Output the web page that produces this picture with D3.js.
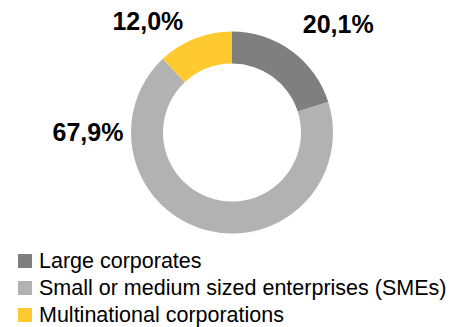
<!DOCTYPE html>
<html>
<head>
<meta charset="utf-8">
<script src="https://cdn.jsdelivr.net/npm/d3@7"></script>
<style>
  html, body { margin: 0; padding: 0; background: #fff; }
  svg { display: block; }
</style>
</head>
<body>
<svg id="chart" width="450" height="327"></svg>
<script>
// Customer segments and their share of the total (%)
const categories = ["Large corporates", "Small or medium sized enterprises (SMEs)", "Multinational corporations"];
const shares = [20.1, 67.9, 12.0];
const shareLabels = ["20,1%", "67,9%", "12,0%"];
const colors = ["#7f7f7f", "#b2b2b2", "#ffca2f"];

const svg = d3.select("#chart");
const cx = 232, cy = 132.5, outerR = 101, innerR = 69;

const pie = d3.pie().sort(null).value(d => d)(shares);
const arc = d3.arc().innerRadius(innerR).outerRadius(outerR);

const g = svg.append("g").attr("transform", `translate(${cx},${cy})`);
g.selectAll("path.slice")
  .data(pie)
  .join("path")
  .attr("class", "slice")
  .attr("d", arc)
  .attr("fill", (d, i) => colors[i]);

// Value labels sit outside the ring: angle (deg, clockwise from top) and distance from centre
const labelPlacement = [
  { angle: 44.5, dist: 151.5 },
  { angle: 270, dist: 144 },
  { angle: -37.1, dist: 139.5 }
];
g.selectAll("text.value")
  .data(pie)
  .join("text")
  .attr("class", "value")
  .attr("x", (d, i) => Math.sin(labelPlacement[i].angle * Math.PI / 180) * labelPlacement[i].dist)
  .attr("y", (d, i) => -Math.cos(labelPlacement[i].angle * Math.PI / 180) * labelPlacement[i].dist)
  .attr("dy", "0.35em")
  .attr("text-anchor", "middle")
  .attr("font-family", "Liberation Sans, Arial, sans-serif")
  .attr("font-weight", "bold")
  .attr("font-size", 25)
  .attr("fill", "#000")
  .text((d, i) => shareLabels[i]);

// Legend
const legend = svg.append("g").attr("transform", "translate(18,254)");
const rowH = 27;
const rows = legend.selectAll("g.row")
  .data(categories)
  .join("g")
  .attr("class", "row")
  .attr("transform", (d, i) => `translate(0,${i * rowH})`);
rows.append("rect")
  .attr("width", 14).attr("height", 14)
  .attr("fill", (d, i) => colors[i]);
rows.append("text")
  .attr("x", 21)
  .attr("y", 14)
  .attr("font-family", "Liberation Sans, Arial, sans-serif")
  .attr("font-size", 21.5)
  .attr("fill", "#000")
  .text(d => d);
</script>
</body>
</html>
